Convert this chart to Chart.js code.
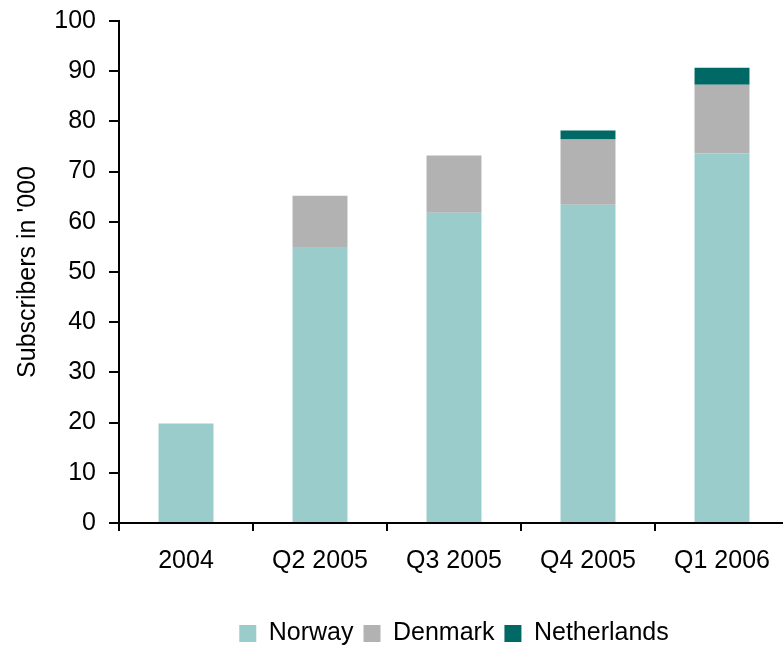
<!DOCTYPE html>
<html>
<head>
<meta charset="utf-8">
<script src="https://cdn.jsdelivr.net/npm/chart.js@4/dist/chart.umd.min.js"></script>
<style>
  html, body { margin: 0; padding: 0; background: #fff; overflow: hidden; width: 783px; height: 648px; }
  #wrap { position: absolute; left: 0; top: 0; width: 790px; height: 656px; }
</style>
</head>
<body>
<div id="wrap"><canvas id="c" width="790" height="656"></canvas></div>
<script>
// Subscribers in thousands, by period
const periods = ['2004', 'Q2 2005', 'Q3 2005', 'Q4 2005', 'Q1 2006'];
const norway = [19.8, 55.0, 61.8, 63.4, 73.6];
const denmark = [null, 10.2, 11.4, 13.0, 13.7];
const netherlands = [null, null, null, 1.8, 3.4];
const yTicks = [0, 10, 20, 30, 40, 50, 60, 70, 80, 90, 100];

const FONT = "'Liberation Sans', Arial, Helvetica, sans-serif";
const INK = '#000000';
const SIZE = 25;

Chart.defaults.font.family = FONT;
Chart.defaults.font.size = SIZE;
Chart.defaults.color = INK;

new Chart(document.getElementById('c'), {
  type: 'bar',
  data: {
    labels: periods,
    datasets: [
      { label: 'Norway', data: norway, backgroundColor: '#9ACCCB' },
      { label: 'Denmark', data: denmark, backgroundColor: '#B2B2B2' },
      { label: 'Netherlands', data: netherlands, backgroundColor: '#006966' }
    ]
  },
  options: {
    responsive: false,
    animation: false,
    devicePixelRatio: 1,
    barPercentage: 0.41,
    categoryPercentage: 1.0,
    layout: { padding: { top: 21, left: 0, right: 1, bottom: 0 } },
    plugins: {
      tooltip: { enabled: false },
      legend: {
        position: 'bottom',
        fullSize: false,
        labels: {
          boxWidth: 17,
          boxHeight: 17,
          padding: 10,
          color: INK,
          font: { size: SIZE, family: FONT }
        }
      }
    },
    scales: {
      x: {
        stacked: true,
        afterFit: (scale) => { scale.height = scale.height + 20; },
        grid: {
          offset: true,
          drawOnChartArea: false,
          drawTicks: true,
          tickLength: 8,
          color: INK,
          lineWidth: 2
        },
        border: { display: true, color: INK, width: 2 },
        ticks: { padding: 15, color: INK, font: { size: SIZE }, maxRotation: 0 }
      },
      y: {
        stacked: true,
        min: 0,
        max: 100,
        afterFit: (scale) => {
          scale.width = 119;
          scale.paddingTop = 0;
          scale.paddingBottom = 0;
        },
        afterBuildTicks: (scale) => { scale.ticks = yTicks.map(v => ({ value: v })); },
        grid: {
          drawOnChartArea: false,
          drawTicks: true,
          tickLength: 10,
          color: INK,
          lineWidth: 2
        },
        border: { display: true, color: INK, width: 2 },
        ticks: { padding: 13, color: INK, font: { size: SIZE } },
        title: {
          display: true,
          text: "Subscribers in '000",
          color: INK,
          font: { size: SIZE },
          padding: { top: 13, bottom: 0 }
        }
      }
    }
  }
});
</script>
</body>
</html>
